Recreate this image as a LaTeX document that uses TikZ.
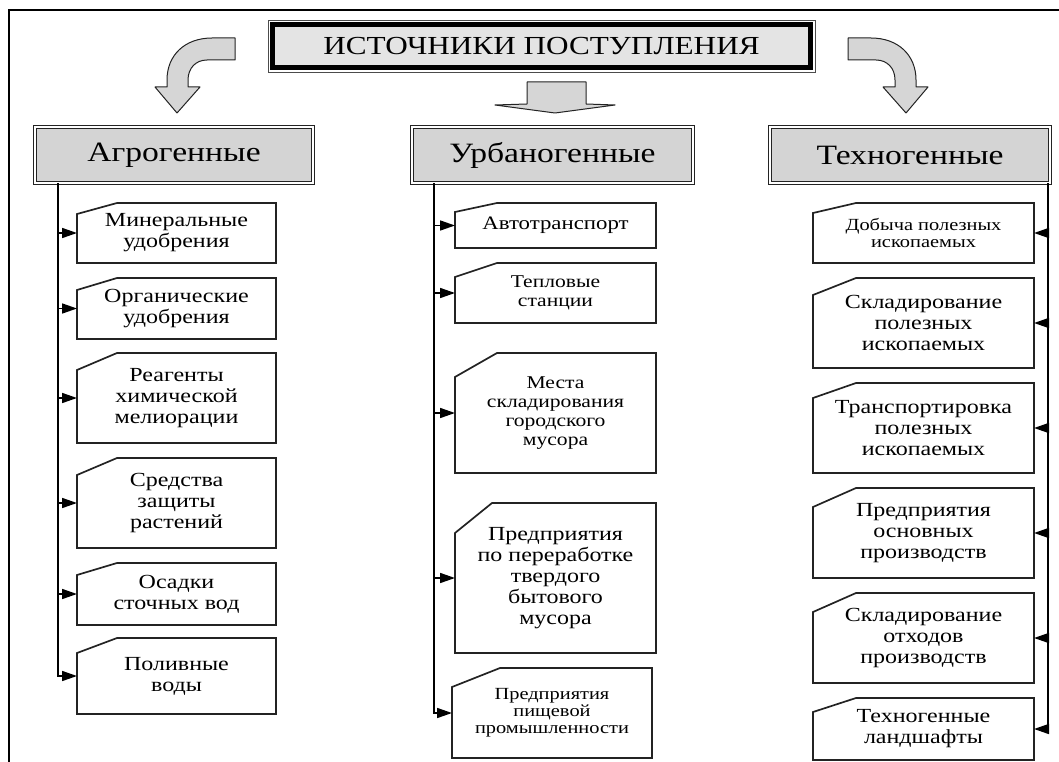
\documentclass[tikz,border=0pt]{standalone}
\usepackage{fontspec}
\setmainfont{Liberation Serif}[FakeStretch=1.2]
\usetikzlibrary{arrows.meta,positioning,calc}
\definecolor{scedge}{RGB}{35,35,35}
\definecolor{sctitle}{RGB}{228,228,228}
\definecolor{sccat}{RGB}{212,212,212}
\definecolor{scblk}{RGB}{214,214,214}
\tikzset{
  titlebox/.style={
    draw=black, line width=4.5pt, fill=sctitle, outer sep=0pt,
    minimum width=538, minimum height=43, inner sep=0pt,
    font=\fontsize{26}{28}\selectfont
  },
  cat/.style={
    draw=scedge, line width=0.9pt, double=white, double distance=2.4pt,
    fill=sccat, outer sep=0pt, minimum height=56, inner sep=0pt,
    font=\fontsize{28}{30}\selectfont
  },
  src/.style={
    align=center, inner sep=0pt, outer sep=0pt,
    font=\fontsize{20}{21}\selectfont
  },
  srcsm/.style={src, font=\fontsize{18}{19}\selectfont},
  srcxs/.style={src, font=\fontsize{17}{17}\selectfont},
  edge/.style={draw=scedge, line width=1.7pt, line join=miter},
  blk/.style={draw=scedge, line width=1pt, fill=scblk, line join=round},
  arr/.style={-{Triangle[length=15pt,width=10pt]}, draw=black, line width=1.6pt},
  frame/.style={draw=black, line width=1.5pt}
}
\begin{document}
\begin{tikzpicture}[x=1pt,y=-1pt]
  \useasboundingbox (0,0) rectangle (1059,762);
  \draw[frame] (9,762) -- (9,10) -- (1059,10);

  % header
  \node[titlebox] (title) at (541.5,46) {ИСТОЧНИКИ ПОСТУПЛЕНИЯ};
  \draw[line width=0.9pt, draw=black!70] ([xshift=-4.5pt,yshift=4.5pt]title.north west) rectangle ([xshift=4.5pt,yshift=-4.5pt]title.south east);

  % block arrows
  \draw[blk] (235,38) -- (212,38) .. controls (185,38) and (167,55) .. (167,80) -- (167,87) -- (155,87)
    -- (177,113) -- (200,87) -- (188,87) -- (188,80) .. controls (188,68) and (196,60) .. (207,60) -- (235,60) -- cycle;
  \begin{scope}[xshift=1083, xscale=-1]
    \draw[blk] (235,38) -- (212,38) .. controls (185,38) and (167,55) .. (167,80) -- (167,87) -- (155,87)
      -- (177,113) -- (200,87) -- (188,87) -- (188,80) .. controls (188,68) and (196,60) .. (207,60) -- (235,60) -- cycle;
  \end{scope}
  \draw[blk] (527,82) -- (586,82) -- (586,104) -- (615,105) -- (555,113) -- (495,105) -- (527,104) -- cycle;

  % groups
  \node[cat, minimum width=278] (agro) at (174,155) {Агрогенные};
  \node[cat, minimum width=281] (urban) at (552.5,155) {Урбаногенные};
  \node[cat, minimum width=280] (techno) at (910,155) {Техногенные};

  % agrogenic sources
  \node[src, minimum width=199, minimum height=60] (a1) at (176.5,233) {Минеральные\\удобрения};
  \node[src, minimum width=199, minimum height=61] (a2) at (176.5,308.5) {Органические\\удобрения};
  \node[src, minimum width=199, minimum height=90] (a3) at (176.5,398) {Реагенты\\химической\\мелиорации};
  \node[src, minimum width=199, minimum height=90] (a4) at (176.5,503) {Средства\\защиты\\растений};
  \node[src, minimum width=199, minimum height=62] (a5) at (176.5,594) {Осадки\\сточных вод};
  \node[src, minimum width=199, minimum height=76] (a6) at (176.5,676) {Поливные\\воды};

  % urbanogenic sources
  \node[src, font=\fontsize{19}{19}\selectfont, minimum width=201, minimum height=45] (u1) at (555.5,225.5) {Автотранспорт};
  \node[srcsm, minimum width=201, minimum height=60] (u2) at (555.5,293) {Тепловые\\станции};
  \node[srcsm, minimum width=201, minimum height=120] (u3) at (555.5,413) {Места\\складирования\\городского\\мусора};
  \node[src, minimum width=201, minimum height=150] (u4) at (555.5,578) {Предприятия\\по переработке\\твердого\\бытового\\мусора};
  \node[srcxs, minimum width=200, minimum height=90] (u5) at (552,713) {Предприятия\\пищевой\\промышленности};

  % technogenic sources
  \node[srcxs, minimum width=221, minimum height=60] (t1) at (923.5,233) {Добыча полезных\\ископаемых};
  \node[src, minimum width=221, minimum height=90] (t2) at (923.5,323) {Складирование\\полезных\\ископаемых};
  \node[src, minimum width=221, minimum height=90] (t3) at (923.5,428) {Транспортировка\\полезных\\ископаемых};
  \node[src, minimum width=221, minimum height=90] (t4) at (923.5,533) {Предприятия\\основных\\производств};
  \node[src, minimum width=221, minimum height=90] (t5) at (923.5,638) {Складирование\\отходов\\производств};
  \node[src, minimum width=221, minimum height=62] (t6) at (923.5,729) {Техногенные\\ландшафты};

  % cut-corner outlines
  \foreach \n/\dx/\dy in {a1/40/11, a2/40/12, a3/40/17, a4/40/17, a5/40/12, a6/40/15,
      u1/42/9, u2/42/14, u3/42/24, u4/37/30, u5/48/19,
      t1/43/10, t2/43/17, t3/43/15, t4/43/19, t5/43/19, t6/43/14}
    \draw[edge] (\n.south west) -- ($(\n.north west)+(0,\dy)$) -- ($(\n.north west)+(\dx,0)$)
      -- (\n.north east) -- (\n.south east) -- cycle;

  % connectors
  \coordinate (agroL) at ($(agro.south west)+(23,0)$);
  \coordinate (urbL) at ($(urban.south west)+(22,0)$);
  \coordinate (techR) at ($(techno.south east)+(-2,0)$);
  \foreach \n in {a1,a2,a3,a4,a5}
    \draw[arr] (agroL |- \n.west) -- (\n.west);
  \draw[arr] (agroL) |- (a6.west);
  \foreach \n in {u1,u2,u3,u4}
    \draw[arr] (urbL |- \n.west) -- (\n.west);
  \draw[arr] (urbL) |- (u5.west);
  \foreach \n in {t1,t2,t3,t4,t5}
    \draw[arr] (techR |- \n.east) -- (\n.east);
  \draw[arr] (techR) |- (t6.east);
\end{tikzpicture}
\end{document}
